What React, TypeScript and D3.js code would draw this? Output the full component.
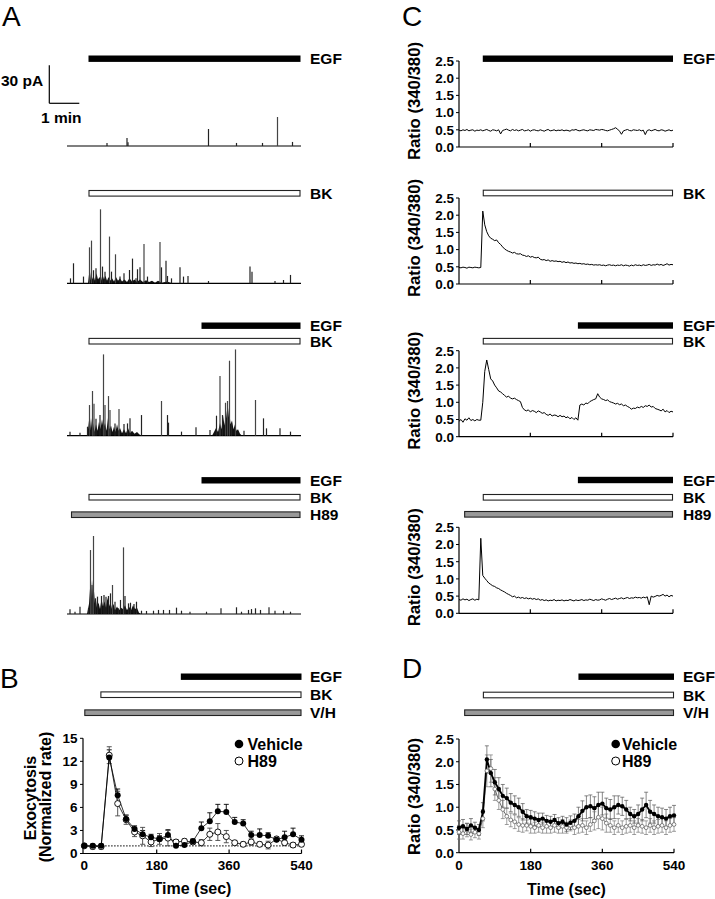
import React from 'react';
import * as d3 from 'd3';

const FONT = '"Liberation Sans", Arial, Helvetica, sans-serif';

// ---------------- Panel A: amperometric traces (time s, amplitude pA) ----------------
const A_DURATION = 468;
const A1_SPIKES: [number, number][] = [[80, 2.4], [120, 6.3], [122, 3], [283, 13.4], [339, 2.4], [391, 2.4], [421, 22.9], [451, 3.2]];
const A2_SPIKES: [number, number][] = [
  [7, 3.9], [13, 15.8], [33, 5.3], [45, 28.4], [49, 33.7], [53, 10.3], [58, 11.8], [67, 58.4], [71, 13.2], [76, 9.2],
  [85, 36.9], [89, 9.2], [97, 22.9], [106, 5.3], [114, 7.9], [125, 10.5], [131, 19.5], [138, 3.9], [141, 11.1], [146, 12.6],
  [154, 31], [161, 5.3], [186, 32.6], [189, 12.6], [198, 17.9], [201, 5.8], [209, 3.9], [226, 12.6], [233, 5.3], [242, 5.8],
  [283, 1.8], [366, 13.2], [370, 9.2], [416, 1.8], [433, 2.6], [447, 6.6],
];
const A3_SPIKES: [number, number][] = [
  [6, 3.2], [26, 2.4], [41, 7.1], [45, 24.2], [51, 35.3], [54, 25.3], [58, 13.4], [66, 16.3], [73, 64.2], [76, 24.2],
  [83, 31.3], [86, 20.3], [96, 9.7], [104, 21.1], [114, 9.2], [121, 9.7], [126, 13.7], [149, 16.3], [189, 27.4], [201, 16.3],
  [203, 10.3], [229, 3.2], [258, 6.6], [286, 4.5], [299, 15.8], [306, 47.1], [311, 16.3], [317, 26], [321, 27.4], [325, 59.2],
  [329, 9.7], [337, 68.1], [354, 3.9], [377, 28.2], [393, 13.7], [399, 5.8], [426, 5.8], [447, 3.2],
];
const A4_SPIKES: [number, number][] = [
  [6, 3.7], [16, 1.8], [26, 5.8], [43, 4.5], [47, 50.5], [50, 22.9], [53, 61.6], [57, 12.4], [61, 13.7], [69, 14.2],
  [74, 15], [78, 13.7], [83, 14.2], [87, 16.3], [91, 22.9], [96, 9.7], [103, 4.5], [107, 11.1], [113, 52.6], [116, 14.2],
  [123, 8.4], [127, 8.9], [134, 7.9], [139, 9.7], [149, 2.6], [159, 2.4], [173, 2.6], [183, 3.2], [193, 3.2], [205, 3.2],
  [219, 5], [229, 2.6], [246, 1.8], [279, 1.8], [308, 4.5], [339, 5.3], [349, 1.8], [363, 3.2], [369, 3.9], [377, 4.5],
  [387, 3.2], [404, 5.3], [416, 2.6], [433, 2.6], [447, 1.8],
];
// dense burst envelopes (time s, pA), read as jagged outlines
const A2_BURST: [number, number][] = [
  [42, 0], [44, 7], [46, 2], [48, 9], [50, 3], [53, 6], [56, 2], [59, 8], [62, 3], [65, 5], [68, 2], [71, 7], [74, 3], [77, 6],
  [80, 2], [83, 5], [86, 2], [90, 4], [94, 1.5], [98, 5], [102, 2], [106, 4], [110, 1.5], [115, 3], [120, 1], [125, 4],
  [130, 1.5], [135, 3], [140, 1], [146, 3], [152, 1], [158, 2.5], [164, 1], [170, 2], [176, 0.5], [182, 2], [190, 0.5],
  [200, 1.5], [210, 0],
];
const A3_BURST: [number, number][] = [
  [40, 0], [42, 5], [44, 12], [46, 4], [48, 14], [50, 6], [52, 10], [55, 3], [58, 9], [61, 4], [64, 11], [67, 5], [70, 13],
  [73, 6], [76, 10], [79, 4], [82, 14], [85, 5], [88, 8], [91, 3], [94, 7], [97, 3], [100, 9], [103, 4], [106, 6], [110, 2],
  [114, 5], [118, 2], [122, 6], [126, 2], [130, 4], [135, 1.5], [140, 3], [145, 1], [150, 0],
];
const A3_BURST2: [number, number][] = [
  [290, 0], [294, 3], [298, 6], [302, 3], [306, 10], [309, 5], [312, 16], [315, 8], [318, 20], [321, 10], [324, 22], [327, 9],
  [330, 12], [333, 5], [336, 9], [339, 4], [342, 5], [346, 1.5], [350, 0],
];
const A4_BURST: [number, number][] = [
  [40, 0], [42, 4], [44, 8], [46, 20], [48, 12], [50, 27], [52, 14], [54, 18], [56, 8], [58, 11], [60, 5], [63, 9], [66, 4],
  [69, 12], [72, 6], [75, 10], [78, 5], [81, 13], [84, 6], [87, 9], [90, 4], [93, 8], [96, 3], [100, 6], [104, 3], [108, 5],
  [112, 4], [116, 7], [120, 3], [124, 6], [128, 3], [132, 7], [136, 4], [140, 5], [144, 1], [148, 0],
];

type BarDef = { label: string; kind: 'black' | 'white' | 'gray'; start: number; end: number };
const A1_BARS: BarDef[] = [{ label: 'EGF', kind: 'black', start: 43, end: 467 }];
const A2_BARS: BarDef[] = [{ label: 'BK', kind: 'white', start: 43, end: 467 }];
const A3_BARS: BarDef[] = [
  { label: 'EGF', kind: 'black', start: 269, end: 467 },
  { label: 'BK', kind: 'white', start: 43, end: 467 },
];
const A4_BARS: BarDef[] = [
  { label: 'EGF', kind: 'black', start: 269, end: 467 },
  { label: 'BK', kind: 'white', start: 43, end: 467 },
  { label: 'H89', kind: 'gray', start: 8, end: 467 },
];

// ---------------- Panel B: exocytosis rate ----------------
const B_TIME = [0, 21, 42, 62, 83, 104, 125, 145, 166, 187, 208, 228, 249, 270, 291, 312, 332, 353, 374, 395, 415, 436, 457, 478, 498, 519, 540];
const B_VEHICLE = [1.0, 1.0, 1.0, 12.5, 7.6, 4.5, 3.2, 2.5, 2.1, 1.9, 2.4, 1.0, 1.1, 1.6, 3.3, 4.2, 5.5, 5.4, 4.1, 3.9, 2.4, 2.4, 2.3, 1.8, 2.1, 2.5, 1.8];
const B_VEHICLE_ERR = [0.2, 0.2, 0.2, 1.0, 0.8, 0.5, 0.4, 0.5, 0.4, 0.4, 0.7, 0.2, 0.3, 0.3, 0.8, 1.1, 0.9, 1.0, 0.6, 0.5, 0.5, 0.8, 0.4, 0.3, 0.8, 0.8, 0.5];
const B_H89 = [1.0, 0.9, 0.9, 12.8, 6.5, 4.4, 2.8, 2.3, 1.5, 1.9, 2.0, 1.5, 1.6, 1.5, 1.4, 2.5, 2.8, 2.2, 1.4, 1.2, 1.5, 1.2, 1.1, 1.9, 1.4, 1.1, 1.2];
const B_H89_ERR = [0.2, 0.3, 0.3, 1.1, 1.6, 0.6, 0.6, 1.1, 0.6, 0.7, 1.0, 0.3, 0.3, 0.3, 0.4, 0.8, 1.1, 0.8, 0.3, 0.3, 0.4, 0.3, 0.5, 0.3, 0.3, 0.3, 0.3];
const B_YTICKS = [0, 3, 6, 9, 12, 15];
const X_TICKS = [0, 180, 360, 540];
const B_BARS: BarDef[] = [
  { label: 'EGF', kind: 'black', start: 240, end: 540 },
  { label: 'BK', kind: 'white', start: 40, end: 540 },
  { label: 'V/H', kind: 'gray', start: 0, end: 540 },
];

// ---------------- Panel C: single-cell Ca2+ ratio (5 s sampling) ----------------
const C_DT = 5;
const C1_RATIO = [
  0.49, 0.47, 0.50, 0.48, 0.51, 0.47, 0.49, 0.50, 0.46, 0.49, 0.48,
  0.50, 0.47, 0.49, 0.51, 0.48, 0.46, 0.50, 0.49, 0.47, 0.50,
  0.38, 0.48, 0.50, 0.52, 0.49, 0.47, 0.51, 0.48, 0.50, 0.47,
  0.49, 0.51, 0.47, 0.48, 0.50, 0.46, 0.49, 0.50, 0.48, 0.47,
  0.50, 0.48, 0.46, 0.49, 0.51, 0.47, 0.48, 0.50, 0.47, 0.49,
  0.48, 0.50, 0.47, 0.49, 0.48, 0.46, 0.50, 0.49, 0.51, 0.48,
  0.47, 0.49, 0.50, 0.48, 0.47, 0.50, 0.49, 0.48, 0.51, 0.50,
  0.49, 0.51, 0.50, 0.48, 0.47, 0.49, 0.51, 0.53, 0.56, 0.52,
  0.46, 0.37, 0.47, 0.49, 0.51, 0.48, 0.47, 0.50, 0.49, 0.48,
  0.50, 0.47, 0.49, 0.36, 0.48, 0.50, 0.47, 0.49, 0.51, 0.48,
  0.47, 0.50, 0.49, 0.46, 0.48, 0.50, 0.47, 0.49,
];
const C2_RATIO = [
  0.48, 0.47, 0.49, 0.48, 0.46, 0.49, 0.48, 0.47, 0.49, 0.48, 0.47,
  0.48, 2.12, 1.72, 1.52, 1.40, 1.33, 1.30, 1.26, 1.28, 1.20,
  1.15, 1.08, 1.02, 0.98, 0.95, 0.93, 0.90, 0.92, 0.88, 0.87,
  0.88, 0.84, 0.83, 0.80, 0.82, 0.78, 0.80, 0.77, 0.76, 0.78,
  0.72, 0.70, 0.71, 0.68, 0.70, 0.66, 0.68, 0.66, 0.67, 0.65,
  0.66, 0.63, 0.65, 0.62, 0.64, 0.61, 0.62, 0.60, 0.61, 0.59,
  0.60, 0.58, 0.59, 0.57, 0.58, 0.56, 0.57, 0.55, 0.56, 0.55,
  0.56, 0.54, 0.55, 0.53, 0.55, 0.56, 0.54, 0.55, 0.53, 0.55,
  0.54, 0.56, 0.53, 0.55, 0.54, 0.52, 0.55, 0.53, 0.56, 0.54,
  0.55, 0.53, 0.56, 0.54, 0.55, 0.57, 0.54, 0.56, 0.55, 0.58,
  0.55, 0.57, 0.54, 0.56, 0.59, 0.55, 0.57, 0.56,
];
const C3_RATIO = [
  0.45, 0.50, 0.42, 0.52, 0.48, 0.55, 0.47, 0.50, 0.46, 0.50, 0.48,
  0.48, 1.00, 1.90, 2.23, 1.95, 1.68, 1.62, 1.50, 1.42, 1.33,
  1.30, 1.25, 1.20, 1.15, 1.18, 1.12, 1.10, 1.12, 1.08, 1.05,
  1.02, 0.85, 0.78, 0.75, 0.78, 0.72, 0.76, 0.74, 0.70, 0.75,
  0.72, 0.68, 0.70, 0.65, 0.62, 0.66, 0.60, 0.63, 0.62, 0.58,
  0.62, 0.58, 0.60, 0.55, 0.58, 0.52, 0.56, 0.50, 0.55, 0.48,
  0.92, 0.95, 0.92, 0.98, 0.96, 1.02, 1.05, 1.08, 1.10, 1.25,
  1.15, 1.10, 1.08, 1.05, 1.07, 1.02, 1.00, 0.98, 0.95, 0.97,
  0.93, 0.95, 0.90, 0.92, 0.88, 0.85, 0.80, 0.83, 0.82, 0.86,
  0.84, 0.88, 0.85, 0.90, 0.88, 0.92, 0.86, 0.88, 0.82, 0.80,
  0.78, 0.75, 0.80, 0.72, 0.76, 0.70, 0.74, 0.72,
];
const C4_RATIO = [
  0.40, 0.38, 0.42, 0.39, 0.41, 0.37, 0.40, 0.42, 0.38, 0.41, 0.39,
  2.18, 1.10, 1.02, 0.95, 0.88, 0.84, 0.80, 0.78, 0.74, 0.72,
  0.68, 0.65, 0.62, 0.58, 0.55, 0.52, 0.48, 0.50, 0.45, 0.47,
  0.44, 0.46, 0.43, 0.45, 0.42, 0.44, 0.41, 0.43, 0.40, 0.42,
  0.38, 0.40, 0.37, 0.39, 0.36, 0.38, 0.37, 0.40, 0.36, 0.38,
  0.37, 0.39, 0.36, 0.38, 0.37, 0.40, 0.38, 0.36, 0.39, 0.37,
  0.38, 0.40, 0.37, 0.39, 0.38, 0.41, 0.39, 0.37, 0.40, 0.38,
  0.39, 0.42, 0.40, 0.38, 0.41, 0.43, 0.40, 0.42, 0.44, 0.41,
  0.43, 0.45, 0.42, 0.44, 0.46, 0.43, 0.45, 0.44, 0.47, 0.45,
  0.46, 0.44, 0.47, 0.45, 0.48, 0.25, 0.50, 0.47, 0.49, 0.52,
  0.50, 0.52, 0.55, 0.50, 0.53, 0.48, 0.52, 0.50,
];
const C_YTICKS = [0, 0.5, 1.0, 1.5, 2.0, 2.5];
const C1_BARS: BarDef[] = [{ label: 'EGF', kind: 'black', start: 60, end: 540 }];
const C2_BARS: BarDef[] = [{ label: 'BK', kind: 'white', start: 60, end: 540 }];
const C3_BARS: BarDef[] = [
  { label: 'EGF', kind: 'black', start: 300, end: 540 },
  { label: 'BK', kind: 'white', start: 60, end: 540 },
];
const C4_BARS: BarDef[] = [
  { label: 'EGF', kind: 'black', start: 300, end: 540 },
  { label: 'BK', kind: 'white', start: 60, end: 540 },
  { label: 'H89', kind: 'gray', start: 13, end: 540 },
];

// ---------------- Panel D: mean ratio (10 s sampling) ----------------
const D_TIME = [0, 10, 20, 30, 40, 50, 60, 70, 80, 90, 100, 110, 120, 130, 140, 150, 160, 170, 180, 190, 200, 210, 220, 230, 240, 250, 260, 270, 280, 290, 300, 310, 320, 330, 340, 350, 360, 370, 380, 390, 400, 410, 420, 430, 440, 450, 460, 470, 480, 490, 500, 510, 520, 530, 540];
const D_VEHICLE = [0.55, 0.58, 0.52, 0.60, 0.55, 0.50, 0.90, 2.05, 1.75, 1.55, 1.40, 1.25, 1.20, 1.10, 1.05, 1.00, 0.90, 0.80, 0.78, 0.75, 0.72, 0.75, 0.70, 0.68, 0.72, 0.65, 0.68, 0.62, 0.66, 0.70, 0.80, 0.92, 1.00, 1.02, 0.98, 1.05, 1.08, 0.98, 0.95, 1.00, 1.05, 1.02, 0.95, 0.85, 0.80, 0.85, 0.95, 1.05, 0.90, 0.85, 0.80, 0.78, 0.75, 0.80, 0.82];
const D_VEHICLE_ERR = [0.15, 0.15, 0.12, 0.15, 0.12, 0.12, 0.2, 0.3, 0.3, 0.28, 0.25, 0.25, 0.22, 0.2, 0.2, 0.2, 0.18, 0.15, 0.15, 0.15, 0.15, 0.12, 0.12, 0.12, 0.12, 0.12, 0.12, 0.15, 0.15, 0.15, 0.2, 0.22, 0.25, 0.25, 0.25, 0.28, 0.25, 0.22, 0.22, 0.25, 0.2, 0.2, 0.2, 0.15, 0.15, 0.2, 0.25, 0.28, 0.25, 0.2, 0.2, 0.2, 0.2, 0.2, 0.22];
const D_H89 = [0.45, 0.42, 0.50, 0.40, 0.45, 0.42, 0.75, 1.80, 1.85, 1.40, 1.15, 0.95, 0.80, 0.72, 0.68, 0.62, 0.60, 0.60, 0.58, 0.55, 0.60, 0.55, 0.58, 0.55, 0.60, 0.55, 0.58, 0.55, 0.60, 0.55, 0.58, 0.60, 0.55, 0.62, 0.70, 0.78, 0.75, 0.65, 0.60, 0.55, 0.60, 0.55, 0.58, 0.60, 0.55, 0.60, 0.58, 0.55, 0.60, 0.55, 0.58, 0.60, 0.55, 0.60, 0.62];
const D_H89_ERR = [0.15, 0.12, 0.15, 0.12, 0.12, 0.12, 0.2, 0.35, 0.3, 0.25, 0.2, 0.2, 0.18, 0.15, 0.15, 0.15, 0.15, 0.12, 0.15, 0.12, 0.15, 0.12, 0.15, 0.12, 0.15, 0.12, 0.15, 0.12, 0.12, 0.15, 0.15, 0.15, 0.15, 0.15, 0.2, 0.25, 0.25, 0.2, 0.15, 0.15, 0.15, 0.15, 0.15, 0.15, 0.15, 0.15, 0.15, 0.15, 0.15, 0.15, 0.15, 0.15, 0.15, 0.15, 0.15];
const D_BARS: BarDef[] = [
  { label: 'EGF', kind: 'black', start: 300, end: 540 },
  { label: 'BK', kind: 'white', start: 60, end: 540 },
  { label: 'V/H', kind: 'gray', start: 13, end: 540 },
];

// ---------------- helpers ----------------
function Bars({ bars, x, rows, labelX }: { bars: BarDef[]; x: d3.ScaleLinear<number, number>; rows: number[]; labelX: number }) {
  return (
    <g>
      {bars.map((b, i) => {
        const cy = rows[i];
        const x0 = x(b.start);
        const x1 = x(b.end);
        const fill = b.kind === 'black' ? '#000' : b.kind === 'white' ? '#fff' : '#999';
        return (
          <g key={i}>
            {b.kind === 'black' ? (
              <rect x={x0} y={cy - 3.2} width={x1 - x0} height={6.4} fill={fill} />
            ) : (
              <rect x={x0 + 0.5} y={cy - 2.8} width={x1 - x0 - 1} height={5.6} fill={fill} stroke="#222" strokeWidth={1.1} />
            )}
            <text x={labelX} y={cy + 5.6} fontSize={15.5} fontWeight="bold" fontFamily={FONT}>
              {b.label}
            </text>
          </g>
        );
      })}
    </g>
  );
}

function Trace({ spikes, bursts, base, x, k }: { spikes: [number, number][]; bursts: [number, number][][]; base: number; x: d3.ScaleLinear<number, number>; k: number }) {
  const area = d3
    .area<[number, number]>()
    .x((d) => x(d[0]))
    .y0(base)
    .y1((d) => base - d[1] * k)
    .curve(d3.curveLinear);
  return (
    <g>
      {bursts.map((b, i) => (
        <path key={i} d={area(b) || ''} fill="#111" />
      ))}
      <line x1={x(0)} x2={x(A_DURATION)} y1={base} y2={base} stroke="#000" strokeWidth={1.2} />
      {spikes.map((s, i) => (
        <line key={i} x1={x(s[0])} x2={x(s[0])} y1={base} y2={base - s[1] * k} stroke={s[1] > 20 ? '#444' : '#222'} strokeWidth={1.2} />
      ))}
    </g>
  );
}

function RatioPanel({ data, y0, bars, rows }: { data: number[]; y0: number; bars: BarDef[]; rows: number[] }) {
  const x = d3.scaleLinear().domain([0, 540]).range([459, 673]);
  const y = d3.scaleLinear().domain([0, 2.5]).range([y0, y0 - 86]);
  const line = d3
    .line<number>()
    .x((_, i) => x(i * C_DT))
    .y((d) => y(d));
  return (
    <g>
      <Bars bars={bars} x={x} rows={rows} labelX={683} />
      <line x1={459} x2={459} y1={y(2.5)} y2={y(0)} stroke="#000" strokeWidth={1.2} />
      <line x1={459} x2={x(540)} y1={y(0)} y2={y(0)} stroke="#000" strokeWidth={1.2} />
      {[180, 360, 540].map((t) => (
        <line key={t} x1={x(t)} x2={x(t)} y1={y(0)} y2={y(0) - 4} stroke="#000" strokeWidth={1.2} />
      ))}
      {C_YTICKS.map((v) => (
        <g key={v}>
          <line x1={456} x2={459} y1={y(v)} y2={y(v)} stroke="#000" strokeWidth={1} />
          <text x={454} y={y(v)} dy="0.36em" textAnchor="end" fontSize={13.5} fontWeight="bold" fontFamily={FONT}>
            {v.toFixed(1)}
          </text>
        </g>
      ))}
      <text
        transform={`translate(414,${(y(0) + y(2.5)) / 2 - 3}) rotate(-90)`}
        textAnchor="middle"
        dominantBaseline="central"
        fontSize={16}
        fontWeight="bold"
        fontFamily={FONT}
        textLength={118}
        lengthAdjust="spacingAndGlyphs"
      >
        Ratio (340/380)
      </text>
      <path d={line(data) || ''} fill="none" stroke="#000" strokeWidth={1} />
    </g>
  );
}

export default function App() {
  // Panel A scales
  const xA = d3.scaleLinear().domain([0, A_DURATION]).range([67, 301]);
  const kA = d3.scaleLinear().domain([0, 30]).range([0, 38])(1); // px per pA

  // Panel B scales
  const xB = d3.scaleLinear().domain([0, 540]).range([84.3, 301.5]);
  const yB = d3.scaleLinear().domain([0, 15]).range([853.5, 738.3]);
  const lineB = d3
    .line<number>()
    .x((_, i) => xB(B_TIME[i]))
    .y((d) => yB(d));

  // Panel D scales
  const xD = d3.scaleLinear().domain([0, 540]).range([459, 674]);
  const yD = d3.scaleLinear().domain([0, 2.5]).range([852.7, 739]);
  const lineD = d3
    .line<number>()
    .x((_, i) => xD(D_TIME[i]))
    .y((d) => yD(d));

  const panelLetter = (t: string, x: number, y: number) => (
    <text x={x} y={y} fontSize={28} fontFamily={FONT}>
      {t}
    </text>
  );

  return (
    <svg width={715} height={899} style={{ position: 'absolute', left: 0, top: 0, background: '#fff' }} fontFamily={FONT}>
      <rect x={0} y={0} width={715} height={899} fill="#fff" />
      {panelLetter('A', 2, 25.5)}
      {panelLetter('B', 0, 688)}
      {panelLetter('C', 402, 25.5)}
      {panelLetter('D', 402, 678)}

      {/* ---------- Panel A ---------- */}
      <Bars bars={A1_BARS} x={xA} rows={[58.7]} labelX={310} />
      <Bars bars={A2_BARS} x={xA} rows={[193.3]} labelX={310} />
      <Bars bars={A3_BARS} x={xA} rows={[325.7, 341.2]} labelX={310} />
      <Bars bars={A4_BARS} x={xA} rows={[480.3, 497.2, 514.7]} labelX={310} />
      {/* scale bar */}
      <line x1={49.3} x2={49.3} y1={65.3} y2={103.3} stroke="#000" strokeWidth={1.2} />
      <line x1={49.3} x2={49.3 + (xA(60) - xA(0))} y1={103.3} y2={103.3} stroke="#000" strokeWidth={1.2} />
      <text x={1} y={86} fontSize={15.5} fontWeight="bold" fontFamily={FONT}>30 pA</text>
      <text x={41} y={122.7} fontSize={15.5} fontWeight="bold" fontFamily={FONT}>1 min</text>
      <Trace spikes={A1_SPIKES} bursts={[]} base={146} x={xA} k={kA} />
      <Trace spikes={A2_SPIKES} bursts={[A2_BURST]} base={283.3} x={xA} k={kA} />
      <Trace spikes={A3_SPIKES} bursts={[A3_BURST, A3_BURST2]} base={435.7} x={xA} k={kA} />
      <Trace spikes={A4_SPIKES} bursts={[A4_BURST]} base={614} x={xA} k={kA} />

      {/* ---------- Panel B ---------- */}
      <Bars bars={B_BARS} x={xB} rows={[676.7, 694.7, 712.7]} labelX={310} />
      <line x1={83} x2={83} y1={yB(15)} y2={yB(0)} stroke="#000" strokeWidth={1.2} />
      <line x1={83} x2={xB(540)} y1={yB(0)} y2={yB(0)} stroke="#000" strokeWidth={1.2} />
      {X_TICKS.map((t) => (
        <g key={t}>
          {t > 0 && <line x1={xB(t)} x2={xB(t)} y1={yB(0)} y2={yB(0) - 4} stroke="#000" strokeWidth={1.2} />}
          <text x={xB(t)} y={869.5} textAnchor="middle" fontSize={13.5} fontWeight="bold" fontFamily={FONT}>{t}</text>
        </g>
      ))}
      {B_YTICKS.map((v) => (
        <g key={v}>
          <line x1={80} x2={83} y1={yB(v)} y2={yB(v)} stroke="#000" strokeWidth={1} />
          <text x={77.5} y={yB(v)} dy="0.36em" textAnchor="end" fontSize={13.5} fontWeight="bold" fontFamily={FONT}>{v}</text>
        </g>
      ))}
      <text x={192} y={893.5} textAnchor="middle" fontSize={16} fontWeight="bold" fontFamily={FONT}>Time (sec)</text>
      <text transform="translate(30,798) rotate(-90)" textAnchor="middle" dominantBaseline="central" fontSize={16} fontWeight="bold" fontFamily={FONT}>Exocytosis</text>
      <text transform="translate(45.5,797) rotate(-90)" textAnchor="middle" dominantBaseline="central" fontSize={16} fontWeight="bold" fontFamily={FONT}>(Normalized rate)</text>
      <line x1={xB(0)} x2={xB(540)} y1={yB(1)} y2={yB(1)} stroke="#000" strokeWidth={1.2} strokeDasharray="1.2,1.8" />
      {/* error bars */}
      {B_VEHICLE.map((v, i) => (
        <g key={'ve' + i} stroke="#000" strokeWidth={0.9}>
          <line x1={xB(B_TIME[i])} x2={xB(B_TIME[i])} y1={yB(v)} y2={yB(v + B_VEHICLE_ERR[i])} />
          <line x1={xB(B_TIME[i]) - 2.5} x2={xB(B_TIME[i]) + 2.5} y1={yB(v + B_VEHICLE_ERR[i])} y2={yB(v + B_VEHICLE_ERR[i])} />
        </g>
      ))}
      {B_H89.map((v, i) => (
        <g key={'he' + i} stroke="#444" strokeWidth={0.9}>
          <line x1={xB(B_TIME[i])} x2={xB(B_TIME[i])} y1={yB(v - B_H89_ERR[i])} y2={yB(v + B_H89_ERR[i])} />
          <line x1={xB(B_TIME[i]) - 2.5} x2={xB(B_TIME[i]) + 2.5} y1={yB(v - B_H89_ERR[i])} y2={yB(v - B_H89_ERR[i])} />
          <line x1={xB(B_TIME[i]) - 2.5} x2={xB(B_TIME[i]) + 2.5} y1={yB(v + B_H89_ERR[i])} y2={yB(v + B_H89_ERR[i])} />
        </g>
      ))}
      <path d={lineB(B_H89) || ''} fill="none" stroke="#000" strokeWidth={0.8} />
      <path d={lineB(B_VEHICLE) || ''} fill="none" stroke="#000" strokeWidth={0.8} />
      {B_H89.map((v, i) => (
        <circle key={'ho' + i} cx={xB(B_TIME[i])} cy={yB(v)} r={3} fill="#fff" stroke="#000" strokeWidth={0.9} />
      ))}
      {B_VEHICLE.map((v, i) => (
        <circle key={'vo' + i} cx={xB(B_TIME[i])} cy={yB(v)} r={3} fill="#000" />
      ))}
      <circle cx={239} cy={744} r={4.3} fill="#000" />
      <text x={247.5} y={749.5} fontSize={16} fontWeight="bold" fontFamily={FONT}>Vehicle</text>
      <circle cx={239} cy={761} r={4} fill="#fff" stroke="#000" strokeWidth={1} />
      <text x={247.5} y={766.5} fontSize={16} fontWeight="bold" fontFamily={FONT}>H89</text>

      {/* ---------- Panel C ---------- */}
      <RatioPanel data={C1_RATIO} y0={147} bars={C1_BARS} rows={[58.7]} />
      <RatioPanel data={C2_RATIO} y0={284} bars={C2_BARS} rows={[193]} />
      <RatioPanel data={C3_RATIO} y0={436.7} bars={C3_BARS} rows={[325.5, 341.2]} />
      <RatioPanel data={C4_RATIO} y0={613.3} bars={C4_BARS} rows={[480, 497.3, 514.3]} />

      {/* ---------- Panel D ---------- */}
      <Bars bars={D_BARS} x={xD} rows={[676.7, 695, 712.7]} labelX={683} />
      <line x1={459} x2={459} y1={yD(2.5)} y2={yD(0)} stroke="#000" strokeWidth={1.2} />
      <line x1={459} x2={xD(540)} y1={yD(0)} y2={yD(0)} stroke="#000" strokeWidth={1.2} />
      {X_TICKS.map((t) => (
        <g key={t}>
          {t > 0 && <line x1={xD(t)} x2={xD(t)} y1={yD(0)} y2={yD(0) - 4} stroke="#000" strokeWidth={1.2} />}
          <text x={xD(t)} y={870} textAnchor="middle" fontSize={13.5} fontWeight="bold" fontFamily={FONT}>{t}</text>
        </g>
      ))}
      {C_YTICKS.map((v) => (
        <g key={v}>
          <line x1={456} x2={459} y1={yD(v)} y2={yD(v)} stroke="#000" strokeWidth={1} />
          <text x={454} y={yD(v)} dy="0.36em" textAnchor="end" fontSize={13.5} fontWeight="bold" fontFamily={FONT}>{v.toFixed(1)}</text>
        </g>
      ))}
      <text x={566.5} y={894.5} textAnchor="middle" fontSize={16} fontWeight="bold" fontFamily={FONT}>Time (sec)</text>
      <text
        transform="translate(414,796.5) rotate(-90)"
        textAnchor="middle"
        dominantBaseline="central"
        fontSize={16}
        fontWeight="bold"
        fontFamily={FONT}
        textLength={117}
        lengthAdjust="spacingAndGlyphs"
      >
        Ratio (340/380)
      </text>
      {D_H89.map((v, i) => {
        const e = D_H89_ERR[i] ?? 0.15;
        const cx = xD(D_TIME[i]);
        return (
          <g key={'dhe' + i} stroke="#777" strokeWidth={0.7}>
            <line x1={cx} x2={cx} y1={yD(v - e)} y2={yD(v + e)} />
            <line x1={cx - 2} x2={cx + 2} y1={yD(v - e)} y2={yD(v - e)} />
            <line x1={cx - 2} x2={cx + 2} y1={yD(v + e)} y2={yD(v + e)} />
          </g>
        );
      })}
      {D_VEHICLE.map((v, i) => {
        const e = D_VEHICLE_ERR[i] ?? 0.2;
        const cx = xD(D_TIME[i]);
        return (
          <g key={'dve' + i} stroke="#555" strokeWidth={0.7}>
            <line x1={cx} x2={cx} y1={yD(v - e)} y2={yD(v + e)} />
            <line x1={cx - 2} x2={cx + 2} y1={yD(v - e)} y2={yD(v - e)} />
            <line x1={cx - 2} x2={cx + 2} y1={yD(v + e)} y2={yD(v + e)} />
          </g>
        );
      })}
      <path d={lineD(D_H89) || ''} fill="none" stroke="#666" strokeWidth={1} />
      <path d={lineD(D_VEHICLE) || ''} fill="none" stroke="#000" strokeWidth={1.8} />
      {D_H89.map((v, i) => (
        <circle key={'dho' + i} cx={xD(D_TIME[i])} cy={yD(v)} r={1.9} fill="#fff" stroke="#666" strokeWidth={0.8} />
      ))}
      {D_VEHICLE.map((v, i) => (
        <circle key={'dvo' + i} cx={xD(D_TIME[i])} cy={yD(v)} r={2.2} fill="#000" />
      ))}
      <circle cx={615.7} cy={744} r={4.3} fill="#000" />
      <text x={622} y={749.5} fontSize={16} fontWeight="bold" fontFamily={FONT}>Vehicle</text>
      <circle cx={615.7} cy={761} r={4} fill="#fff" stroke="#000" strokeWidth={1} />
      <text x={622} y={766.5} fontSize={16} fontWeight="bold" fontFamily={FONT}>H89</text>
    </svg>
  );
}
